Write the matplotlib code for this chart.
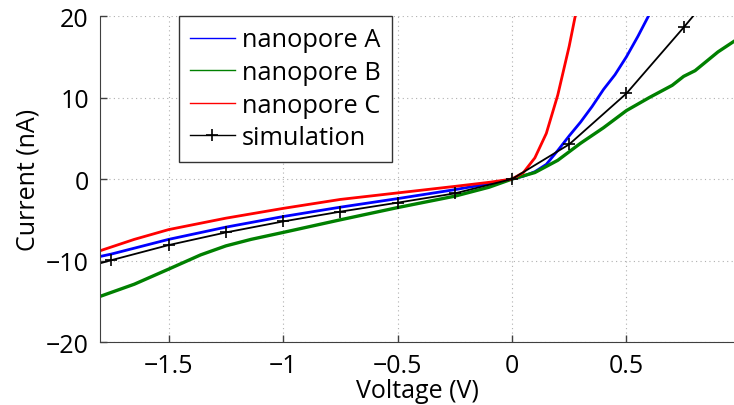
import numpy as np
import matplotlib.pyplot as plt
from matplotlib.ticker import FixedLocator, FuncFormatter

plt.rcParams['font.family'] = ['Open Sans', 'DejaVu Sans']

# measured I-V curves (voltage in V, current in nA)
v_a = [-1.8, -1.75, -1.5, -1.25, -1.0, -0.75, -0.5, -0.25, -0.1, 0.0,
       0.05, 0.1, 0.15, 0.2, 0.25, 0.3, 0.35, 0.4, 0.45, 0.5, 0.55, 0.6, 0.62]
i_a = [-9.5, -9.2, -7.4, -5.9, -4.6, -3.45, -2.4, -1.3, -0.57, 0.0,
       0.35, 0.9, 1.8, 3.5, 5.3, 7.0, 8.9, 11.0, 12.8, 15.0, 17.5, 20.2, 21.5]

v_b = [-1.8, -1.65, -1.5, -1.36, -1.25, -1.14, -1.0, -0.75, -0.5, -0.25, -0.1, 0.0,
       0.1, 0.2, 0.3, 0.4, 0.5, 0.6, 0.7, 0.75, 0.8, 0.9, 0.97]
i_b = [-14.4, -12.9, -11.05, -9.3, -8.2, -7.4, -6.55, -5.0, -3.5, -2.1, -1.0, 0.0,
       0.8, 2.3, 4.4, 6.3, 8.4, 10.0, 11.5, 12.6, 13.3, 15.6, 16.9]

v_c = [-1.8, -1.65, -1.5, -1.25, -1.0, -0.75, -0.5, -0.25, -0.1, 0.0,
       0.05, 0.1, 0.15, 0.2, 0.25, 0.28]
i_c = [-8.8, -7.4, -6.2, -4.8, -3.6, -2.5, -1.7, -0.9, -0.4, 0.0,
       0.8, 2.6, 5.6, 10.3, 16.3, 20.5]

# simulated points
v_sim = [-2.0, -1.75, -1.5, -1.25, -1.0, -0.75, -0.5, -0.25, 0.0, 0.25, 0.5, 0.75, 1.0]
i_sim = [-11.9, -9.95, -8.1, -6.55, -5.2, -4.0, -2.9, -1.76, 0.0, 4.26, 10.5, 18.6, 27.0]

x_ticks = [-1.5, -1.0, -0.5, 0.0, 0.5]
y_ticks = [-20, -10, 0, 10, 20]


def minus_fmt(val, _pos):
    return ('%g' % val).replace('-', '\u2212')


fig = plt.figure(figsize=(7.34, 4.06), dpi=100)
ax = fig.add_axes([0.1362, 0.155, 0.8638, 0.803])

ax.plot(v_a, i_a, color='#0000ff', lw=2.0, label='nanopore A')
ax.plot(v_b, i_b, color='#008000', lw=2.4, label='nanopore B')
ax.plot(v_c, i_c, color='#ff0000', lw=2.0, label='nanopore C')
ax.plot(v_sim, i_sim, color='black', lw=1.3, marker='+', ms=8, mew=1.2,
        label='simulation')

ax.set_xlim(-1.8, 0.97)
ax.set_ylim(-20, 20)
ax.xaxis.set_major_locator(FixedLocator(x_ticks))
ax.yaxis.set_major_locator(FixedLocator(y_ticks))
ax.xaxis.set_major_formatter(FuncFormatter(minus_fmt))
ax.yaxis.set_major_formatter(FuncFormatter(minus_fmt))

ax.grid(True, color='#b0b0b0', linestyle=(0, (1, 3)), linewidth=0.8)
ax.set_axisbelow(True)
for side in ['top', 'right']:
    ax.spines[side].set_visible(False)
for side in ['left', 'bottom']:
    ax.spines[side].set_color('#404040')
ax.tick_params(direction='in', length=5, width=1, color='#404040',
               labelsize=18, pad=8)

ax.set_xlabel('Voltage (V)', fontsize=18, labelpad=0)
ax.set_ylabel('Current (nA)', fontsize=18, labelpad=4)

leg = ax.legend(loc='upper left', bbox_to_anchor=(0.124, 1.0), fontsize=18.3,
                handlelength=1.75, handletextpad=0.3, labelspacing=0.3,
                borderpad=0.45, borderaxespad=0, fancybox=False, framealpha=1)
leg.get_frame().set_edgecolor('#333333')
leg.get_frame().set_linewidth(1.0)
for line in leg.get_lines():
    line.set_linewidth(1.0)

fig.savefig('out.png', dpi=100)
